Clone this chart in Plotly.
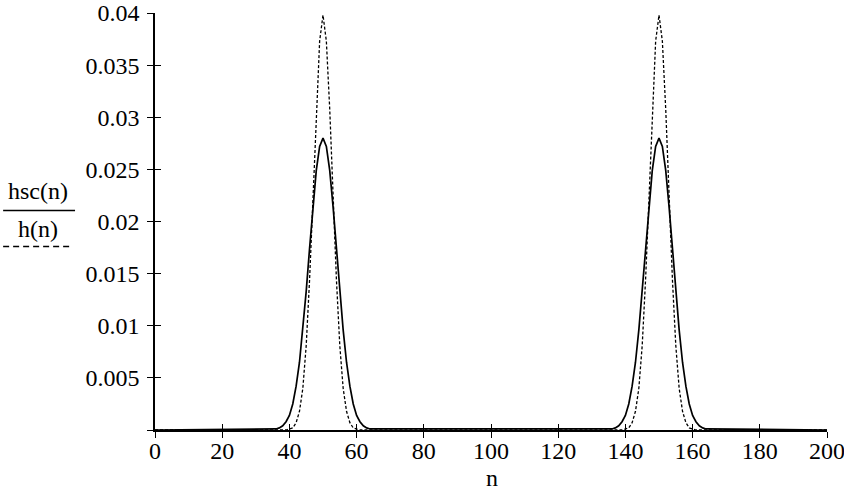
import plotly.graph_objects as go

# ---------------------------------------------------------------------------
# values (both peaks look identical)

N_PEAK1 = list(range(36, 65))
N_PEAK2 = list(range(136, 165))

HSC_PEAK1 = [0.0001, 0.0002, 0.0004, 0.0008, 0.0014, 0.0025, 0.0042, 0.0065,
             0.0096, 0.0133, 0.0174, 0.0214, 0.0249, 0.0272, 0.0280, 0.0272,
             0.0249, 0.0214, 0.0174, 0.0133, 0.0096, 0.0065, 0.0042, 0.0025,
             0.0014, 0.0008, 0.0004, 0.0002, 0.0001]
HSC_PEAK2 = [0.0001, 0.0002, 0.0004, 0.0008, 0.0014, 0.0025, 0.0042, 0.0065,
             0.0096, 0.0133, 0.0174, 0.0214, 0.0249, 0.0272, 0.0280, 0.0272,
             0.0249, 0.0214, 0.0174, 0.0133, 0.0096, 0.0065, 0.0042, 0.0025,
             0.0014, 0.0008, 0.0004, 0.0002, 0.0001]

H_PEAK1 = [0.0, 0.0, 0.0, 0.0, 0.0001, 0.0002, 0.0007, 0.0018, 0.0040,
           0.0081, 0.0144, 0.0224, 0.0308, 0.0373, 0.0398, 0.0373, 0.0308,
           0.0224, 0.0144, 0.0081, 0.0040, 0.0018, 0.0007, 0.0002, 0.0001,
           0.0, 0.0, 0.0, 0.0]
H_PEAK2 = [0.0, 0.0, 0.0, 0.0, 0.0001, 0.0002, 0.0007, 0.0018, 0.0040,
           0.0081, 0.0144, 0.0224, 0.0308, 0.0373, 0.0398, 0.0373, 0.0308,
           0.0224, 0.0144, 0.0081, 0.0040, 0.0018, 0.0007, 0.0002, 0.0001,
           0.0, 0.0, 0.0, 0.0]

N_START, N_END = 0, 200

X_TICKS = [0, 20, 40, 60, 80, 100, 120, 140, 160, 180, 200]
Y_TICKS = [0, 0.005, 0.01, 0.015, 0.02, 0.025, 0.03, 0.035, 0.04]
Y_TICK_TEXT = ["", "0.005", "0.01", "0.015", "0.02", "0.025", "0.03", "0.035", "0.04"]

FONT = "Liberation Serif"
FSIZE = 24

# ---------------------------------------------------------------------------

n_all = [N_START] + N_PEAK1 + N_PEAK2 + [N_END]
hsc_all = [0.0] + HSC_PEAK1 + HSC_PEAK2 + [0.0]
h_all = [0.0] + H_PEAK1 + H_PEAK2 + [0.0]

fig = go.Figure()
fig.add_trace(go.Scatter(x=n_all, y=h_all, mode="lines", name="h(n)",
                         line=dict(color="black", width=1.3, dash="3px,2px")))
fig.add_trace(go.Scatter(x=n_all, y=hsc_all, mode="lines", name="hsc(n)",
                         line=dict(color="black", width=1.7)))

tick_font = dict(family=FONT, size=FSIZE, color="black")
axis_common = dict(showgrid=False, zeroline=False, color="black",
                   automargin=False, tickfont=tick_font,
                   ticklabeloverflow="allow")

fig.update_layout(
    template="none",
    width=844, height=490,
    margin=dict(l=155, r=17, t=13, b=60, autoexpand=False),
    paper_bgcolor="white", plot_bgcolor="white",
    showlegend=False,
    font=dict(family=FONT, size=FSIZE, color="black"),
    xaxis=dict(range=[0, 200], tickvals=X_TICKS, ticks="outside", ticklen=6,
               tickwidth=1.3, tickcolor="black", showline=True,
               linecolor="black", linewidth=1.5, ticklabelstandoff=-8,
               **axis_common),
    yaxis=dict(range=[0, 0.04], tickvals=Y_TICKS, ticktext=Y_TICK_TEXT,
               ticks="outside", ticklen=6, tickwidth=1.3, tickcolor="black",
               showline=True, linecolor="black", linewidth=1.5,
               ticklabelstandoff=3, **axis_common),
    # second set of axes just for the inward half of the cross ticks
    xaxis2=dict(range=[0, 200], tickvals=X_TICKS, ticks="inside", ticklen=6,
                tickwidth=1.3, tickcolor="black", showticklabels=False,
                showline=False, overlaying="x", anchor="y2", showgrid=False,
                zeroline=False, automargin=False),
    yaxis2=dict(range=[0, 0.04], tickvals=Y_TICKS, ticks="inside", ticklen=6,
                tickwidth=1.3, tickcolor="black", showticklabels=False,
                showline=False, overlaying="y", anchor="x2", showgrid=False,
                zeroline=False, automargin=False),
)
fig.add_trace(go.Scatter(x=[None], y=[None], xaxis="x2", yaxis="y2",
                         showlegend=False, hoverinfo="skip"))

label_font = dict(family=FONT, size=FSIZE, color="black")

# x axis title
fig.add_annotation(text="n", x=0.5015, y=-0.115, xref="paper", yref="paper",
                   showarrow=False, font=label_font,
                   xanchor="center", yanchor="middle")

# Mathcad style y label: names stacked over line samples
fig.add_annotation(text="hsc(n)", x=-0.174, y=0.572, xref="paper", yref="paper",
                   showarrow=False, font=label_font,
                   xanchor="center", yanchor="middle")
fig.add_annotation(text="h(n)", x=-0.174, y=0.481, xref="paper", yref="paper",
                   showarrow=False, font=label_font,
                   xanchor="center", yanchor="middle")
fig.add_shape(type="line", xref="paper", yref="paper",
              x0=-0.226, x1=-0.119, y0=0.5264, y1=0.5264,
              line=dict(color="black", width=1.5))
fig.add_shape(type="line", xref="paper", yref="paper",
              x0=-0.226, x1=-0.122, y0=0.44, y1=0.44,
              line=dict(color="black", width=1.3, dash="6px,4px"))

# drop the default 8px page margin so the figure fills the window exactly
fig.write_html("out.html", config={"displayModeBar": False},
               post_script="document.body.style.margin = '0';")
